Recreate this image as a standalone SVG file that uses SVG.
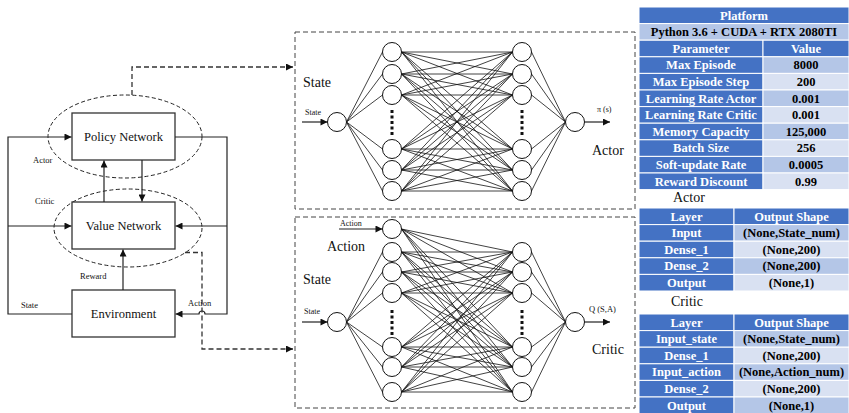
<svg xmlns="http://www.w3.org/2000/svg" width="849" height="413" viewBox="0 0 849 413">
<style>
.ln{stroke:#222;stroke-width:1.2;fill:none}
.dash{stroke:#333;stroke-width:1.3;fill:none;stroke-dasharray:5 3}
.ell{stroke:#222;stroke-width:1;fill:none;stroke-dasharray:4 2.5}
.box{fill:#fff;stroke:#333;stroke-width:1.3}
.frame{fill:none;stroke:#444;stroke-width:1;stroke-dasharray:5 3}
.nn{stroke:#111;stroke-width:0.8;fill:none}
.nd{fill:#fff;stroke:#111;stroke-width:1}
.dots{stroke:#111;stroke-width:3;stroke-dasharray:3 2.5;fill:none}
.t{font-family:"Liberation Serif","Times New Roman",serif;fill:#111}
.c{text-anchor:middle}
.tb{font-family:"Liberation Serif","Times New Roman",serif;font-weight:bold;font-size:12.5px;text-anchor:middle;fill:#000}
.w{fill:#fff}
.dk{fill:#4472C4;stroke:#fff;stroke-width:1}
.md{fill:#B4C6E7;stroke:#fff;stroke-width:1}
.lt{fill:#D9E1F2;stroke:#fff;stroke-width:1}
</style>
<defs>
<marker id="arr" viewBox="0 0 10 10" refX="10" refY="5" markerWidth="8" markerHeight="7" orient="auto" markerUnits="userSpaceOnUse"><path d="M0 0L10 5L0 10z" fill="#111"/></marker>
</defs>

<!-- left diagram nodes -->
<g id="actor-ellipse"><ellipse class="ell" cx="125" cy="136.5" rx="77" ry="41.5"/></g>
<g id="critic-ellipse"><ellipse class="ell" cx="128" cy="228" rx="74" ry="39"/></g>
<g id="policy"><rect class="box" x="72" y="113" width="103" height="47"/><text class="t c" x="123.5" y="141" font-size="12.5">Policy Network</text></g>
<g id="value"><rect class="box" x="72" y="202" width="103" height="47"/><text class="t c" x="123.5" y="230" font-size="12.5">Value Network</text></g>
<g id="env"><rect class="box" x="72" y="290" width="103" height="47"/><text class="t c" x="123.5" y="318" font-size="12.5">Environment</text></g>

<g id="connectors">
<path class="ln" d="M72 314H8V137H71.5" marker-end="url(#arr)"/>
<path class="ln" d="M8 226H71.5" marker-end="url(#arr)"/>
<path class="ln" d="M175 137H227V314H205a3 3 0 0 0-6 0H175.5" marker-end="url(#arr)"/>
<path class="ln" d="M227 226H175.5" marker-end="url(#arr)"/>
<path class="ln" d="M104 202V160.5" marker-end="url(#arr)"/>
<path class="ln" d="M142 160V201.5" marker-end="url(#arr)"/>
<path class="ln" d="M123 290V249.5" marker-end="url(#arr)"/>
<path class="dash" d="M132 95V67H293" marker-end="url(#arr)"/>
<path class="dash" d="M185 252.5H202V349H293" marker-end="url(#arr)"/>
</g>
<g id="left-labels">
<text class="t" x="33" y="163" font-size="8.5">Actor</text>
<text class="t" x="35" y="204" font-size="8.5">Critic</text>
<text class="t" x="80" y="279" font-size="8.5">Reward</text>
<text class="t" x="21" y="308" font-size="8.5">State</text>
<text class="t" x="188" y="306" font-size="8.5">Action</text>
</g>

<!-- actor network -->
<g id="actor-net">
<rect class="frame" x="295" y="32" width="340" height="177"/>
<path class="nn" d="M346.5 122L382.5 52M346.5 122L382.5 74M346.5 122L382.5 95M346.5 122L382.5 149M346.5 122L382.5 170M346.5 122L382.5 191
M531.5 52L565.5 122M531.5 74L565.5 122M531.5 95L565.5 122M531.5 149L565.5 122M531.5 170L565.5 122M531.5 191L565.5 122
M401.5 52L512.5 52M401.5 52L512.5 74M401.5 52L512.5 95M401.5 52L512.5 149M401.5 52L512.5 170M401.5 52L512.5 191
M401.5 74L512.5 52M401.5 74L512.5 74M401.5 74L512.5 95M401.5 74L512.5 149M401.5 74L512.5 170M401.5 74L512.5 191
M401.5 95L512.5 52M401.5 95L512.5 74M401.5 95L512.5 95M401.5 95L512.5 149M401.5 95L512.5 170M401.5 95L512.5 191
M401.5 149L512.5 52M401.5 149L512.5 74M401.5 149L512.5 95M401.5 149L512.5 149M401.5 149L512.5 170M401.5 149L512.5 191
M401.5 170L512.5 52M401.5 170L512.5 74M401.5 170L512.5 95M401.5 170L512.5 149M401.5 170L512.5 170M401.5 170L512.5 191
M401.5 191L512.5 52M401.5 191L512.5 74M401.5 191L512.5 95M401.5 191L512.5 149M401.5 191L512.5 170M401.5 191L512.5 191"/>
<path class="dots" d="M392 110V136M522 110V136"/>
<path class="ln" d="M302 122H327.5" marker-end="url(#arr)"/>
<path class="ln" d="M584.5 122H610" marker-end="url(#arr)"/>
<text class="t" x="303" y="87" font-size="14">State</text>
<text class="t" x="305" y="115" font-size="8">State</text>
<text class="t" x="597" y="112" font-size="8">π (s)</text>
<text class="t" x="592" y="155" font-size="14">Actor</text>
</g>
<g id="a-in"><circle class="nd" cx="337" cy="122" r="9.5"/></g>
<g id="a-h1-1"><circle class="nd" cx="392" cy="52" r="9.5"/></g>
<g id="a-h1-2"><circle class="nd" cx="392" cy="74" r="9.5"/></g>
<g id="a-h1-3"><circle class="nd" cx="392" cy="95" r="9.5"/></g>
<g id="a-h1-4"><circle class="nd" cx="392" cy="149" r="9.5"/></g>
<g id="a-h1-5"><circle class="nd" cx="392" cy="170" r="9.5"/></g>
<g id="a-h1-6"><circle class="nd" cx="392" cy="191" r="9.5"/></g>
<g id="a-h2-1"><circle class="nd" cx="522" cy="52" r="9.5"/></g>
<g id="a-h2-2"><circle class="nd" cx="522" cy="74" r="9.5"/></g>
<g id="a-h2-3"><circle class="nd" cx="522" cy="95" r="9.5"/></g>
<g id="a-h2-4"><circle class="nd" cx="522" cy="149" r="9.5"/></g>
<g id="a-h2-5"><circle class="nd" cx="522" cy="170" r="9.5"/></g>
<g id="a-h2-6"><circle class="nd" cx="522" cy="191" r="9.5"/></g>
<g id="a-out"><circle class="nd" cx="575" cy="122" r="9.5"/></g>

<!-- critic network -->
<g id="critic-net">
<rect class="frame" x="295" y="217" width="340" height="191"/>
<path class="nn" d="M346.5 322L382.5 252M346.5 322L382.5 272M346.5 322L382.5 293M346.5 322L382.5 347M346.5 322L382.5 367M346.5 322L382.5 392
M531.5 252L565.5 322M531.5 272L565.5 322M531.5 293L565.5 322M531.5 347L565.5 322M531.5 367L565.5 322M531.5 392L565.5 322
M401.5 229L512.5 252M401.5 229L512.5 272M401.5 229L512.5 293M401.5 229L512.5 347M401.5 229L512.5 367M401.5 229L512.5 392
M401.5 252L512.5 252M401.5 252L512.5 272M401.5 252L512.5 293M401.5 252L512.5 347M401.5 252L512.5 367M401.5 252L512.5 392
M401.5 272L512.5 252M401.5 272L512.5 272M401.5 272L512.5 293M401.5 272L512.5 347M401.5 272L512.5 367M401.5 272L512.5 392
M401.5 293L512.5 252M401.5 293L512.5 272M401.5 293L512.5 293M401.5 293L512.5 347M401.5 293L512.5 367M401.5 293L512.5 392
M401.5 347L512.5 252M401.5 347L512.5 272M401.5 347L512.5 293M401.5 347L512.5 347M401.5 347L512.5 367M401.5 347L512.5 392
M401.5 367L512.5 252M401.5 367L512.5 272M401.5 367L512.5 293M401.5 367L512.5 347M401.5 367L512.5 367M401.5 367L512.5 392
M401.5 392L512.5 252M401.5 392L512.5 272M401.5 392L512.5 293M401.5 392L512.5 347M401.5 392L512.5 367M401.5 392L512.5 392"/>
<path class="dots" d="M392 310V336M522 310V336"/>
<path class="ln" d="M302 322H327.5" marker-end="url(#arr)"/>
<path class="ln" d="M584.5 322H610" marker-end="url(#arr)"/>
<path class="ln" d="M339 229H382.5" marker-end="url(#arr)"/>
<text class="t" x="340" y="226" font-size="8">Action</text>
<text class="t" x="327" y="251" font-size="14">Action</text>
<text class="t" x="303" y="284" font-size="14">State</text>
<text class="t" x="304" y="314" font-size="8">State</text>
<text class="t" x="589" y="312" font-size="8.5">Q (S,A)</text>
<text class="t" x="592" y="354" font-size="14">Critic</text>
</g>
<g id="c-in"><circle class="nd" cx="337" cy="322" r="9.5"/></g>
<g id="c-h1-0"><circle class="nd" cx="392" cy="229" r="9.5"/></g>
<g id="c-h1-1"><circle class="nd" cx="392" cy="252" r="9.5"/></g>
<g id="c-h1-2"><circle class="nd" cx="392" cy="272" r="9.5"/></g>
<g id="c-h1-3"><circle class="nd" cx="392" cy="293" r="9.5"/></g>
<g id="c-h1-4"><circle class="nd" cx="392" cy="347" r="9.5"/></g>
<g id="c-h1-5"><circle class="nd" cx="392" cy="367" r="9.5"/></g>
<g id="c-h1-6"><circle class="nd" cx="392" cy="392" r="9.5"/></g>
<g id="c-h2-1"><circle class="nd" cx="522" cy="252" r="9.5"/></g>
<g id="c-h2-2"><circle class="nd" cx="522" cy="272" r="9.5"/></g>
<g id="c-h2-3"><circle class="nd" cx="522" cy="293" r="9.5"/></g>
<g id="c-h2-4"><circle class="nd" cx="522" cy="347" r="9.5"/></g>
<g id="c-h2-5"><circle class="nd" cx="522" cy="367" r="9.5"/></g>
<g id="c-h2-6"><circle class="nd" cx="522" cy="392" r="9.5"/></g>
<g id="c-out"><circle class="nd" cx="575" cy="322" r="9.5"/></g>

<!-- platform table -->
<g id="platform-table">
<rect class="dk" x="639" y="7" width="210" height="16.6"/>
<text class="tb w" x="744" y="19.5">Platform</text>
<rect class="md" x="639" y="23.6" width="210" height="16.6"/>
<text class="tb" x="744" y="36.1">Python 3.6 + CUDA + RTX 2080TI</text>
<rect class="dk" x="639" y="40.2" width="124" height="16.6"/><rect class="dk" x="763" y="40.2" width="86" height="16.6"/>
<text class="tb w" x="701" y="52.7">Parameter</text><text class="tb w" x="806" y="52.7">Value</text>
<rect class="dk" x="639" y="56.8" width="124" height="16.6"/><rect class="md" x="763" y="56.8" width="86" height="16.6"/>
<text class="tb w" x="701" y="69.3">Max Episode</text><text class="tb" x="806" y="69.3">8000</text>
<rect class="dk" x="639" y="73.4" width="124" height="16.6"/><rect class="lt" x="763" y="73.4" width="86" height="16.6"/>
<text class="tb w" x="701" y="85.9">Max Episode Step</text><text class="tb" x="806" y="85.9">200</text>
<rect class="dk" x="639" y="90" width="124" height="16.6"/><rect class="md" x="763" y="90" width="86" height="16.6"/>
<text class="tb w" x="701" y="102.5">Learning Rate Actor</text><text class="tb" x="806" y="102.5">0.001</text>
<rect class="dk" x="639" y="106.6" width="124" height="16.6"/><rect class="lt" x="763" y="106.6" width="86" height="16.6"/>
<text class="tb w" x="701" y="119.1">Learning Rate Critic</text><text class="tb" x="806" y="119.1">0.001</text>
<rect class="dk" x="639" y="123.2" width="124" height="16.6"/><rect class="md" x="763" y="123.2" width="86" height="16.6"/>
<text class="tb w" x="701" y="135.7">Memory Capacity</text><text class="tb" x="806" y="135.7">125,000</text>
<rect class="dk" x="639" y="139.8" width="124" height="16.6"/><rect class="lt" x="763" y="139.8" width="86" height="16.6"/>
<text class="tb w" x="701" y="152.3">Batch Size</text><text class="tb" x="806" y="152.3">256</text>
<rect class="dk" x="639" y="156.4" width="124" height="16.6"/><rect class="md" x="763" y="156.4" width="86" height="16.6"/>
<text class="tb w" x="701" y="168.9">Soft-update Rate</text><text class="tb" x="806" y="168.9">0.0005</text>
<rect class="dk" x="639" y="173" width="124" height="16.6"/><rect class="lt" x="763" y="173" width="86" height="16.6"/>
<text class="tb w" x="701" y="185.5">Reward Discount</text><text class="tb" x="806" y="185.5">0.99</text>
</g>

<text class="t" x="673" y="202" font-size="14">Actor</text>
<g id="actor-table">
<rect class="dk" x="639" y="208" width="95" height="16.6"/><rect class="dk" x="734" y="208" width="115" height="16.6"/>
<text class="tb w" x="686.5" y="220.5">Layer</text><text class="tb w" x="791.5" y="220.5">Output Shape</text>
<rect class="dk" x="639" y="224.6" width="95" height="16.6"/><rect class="md" x="734" y="224.6" width="115" height="16.6"/>
<text class="tb w" x="686.5" y="237.1">Input</text><text class="tb" x="791.5" y="237.1">(None,State_num)</text>
<rect class="dk" x="639" y="241.2" width="95" height="16.6"/><rect class="lt" x="734" y="241.2" width="115" height="16.6"/>
<text class="tb w" x="686.5" y="253.7">Dense_1</text><text class="tb" x="791.5" y="253.7">(None,200)</text>
<rect class="dk" x="639" y="257.8" width="95" height="16.6"/><rect class="md" x="734" y="257.8" width="115" height="16.6"/>
<text class="tb w" x="686.5" y="270.3">Dense_2</text><text class="tb" x="791.5" y="270.3">(None,200)</text>
<rect class="dk" x="639" y="274.4" width="95" height="16.6"/><rect class="lt" x="734" y="274.4" width="115" height="16.6"/>
<text class="tb w" x="686.5" y="286.9">Output</text><text class="tb" x="791.5" y="286.9">(None,1)</text>
</g>

<text class="t" x="671" y="306" font-size="14">Critic</text>
<g id="critic-table">
<rect class="dk" x="639" y="314" width="95" height="16.6"/><rect class="dk" x="734" y="314" width="115" height="16.6"/>
<text class="tb w" x="686.5" y="326.5">Layer</text><text class="tb w" x="791.5" y="326.5">Output Shape</text>
<rect class="dk" x="639" y="330.6" width="95" height="16.6"/><rect class="md" x="734" y="330.6" width="115" height="16.6"/>
<text class="tb w" x="686.5" y="343.1">Input_state</text><text class="tb" x="791.5" y="343.1">(None,State_num)</text>
<rect class="dk" x="639" y="347.2" width="95" height="16.6"/><rect class="lt" x="734" y="347.2" width="115" height="16.6"/>
<text class="tb w" x="686.5" y="359.7">Dense_1</text><text class="tb" x="791.5" y="359.7">(None,200)</text>
<rect class="dk" x="639" y="363.8" width="95" height="16.6"/><rect class="md" x="734" y="363.8" width="115" height="16.6"/>
<text class="tb w" x="686.5" y="376.3">Input_action</text><text class="tb" x="791.5" y="376.3">(None,Action_num)</text>
<rect class="dk" x="639" y="380.4" width="95" height="16.6"/><rect class="lt" x="734" y="380.4" width="115" height="16.6"/>
<text class="tb w" x="686.5" y="392.9">Dense_2</text><text class="tb" x="791.5" y="392.9">(None,200)</text>
<rect class="dk" x="639" y="397" width="95" height="16.6"/><rect class="md" x="734" y="397" width="115" height="16.6"/>
<text class="tb w" x="686.5" y="409.5">Output</text><text class="tb" x="791.5" y="409.5">(None,1)</text>
</g>
</svg>
